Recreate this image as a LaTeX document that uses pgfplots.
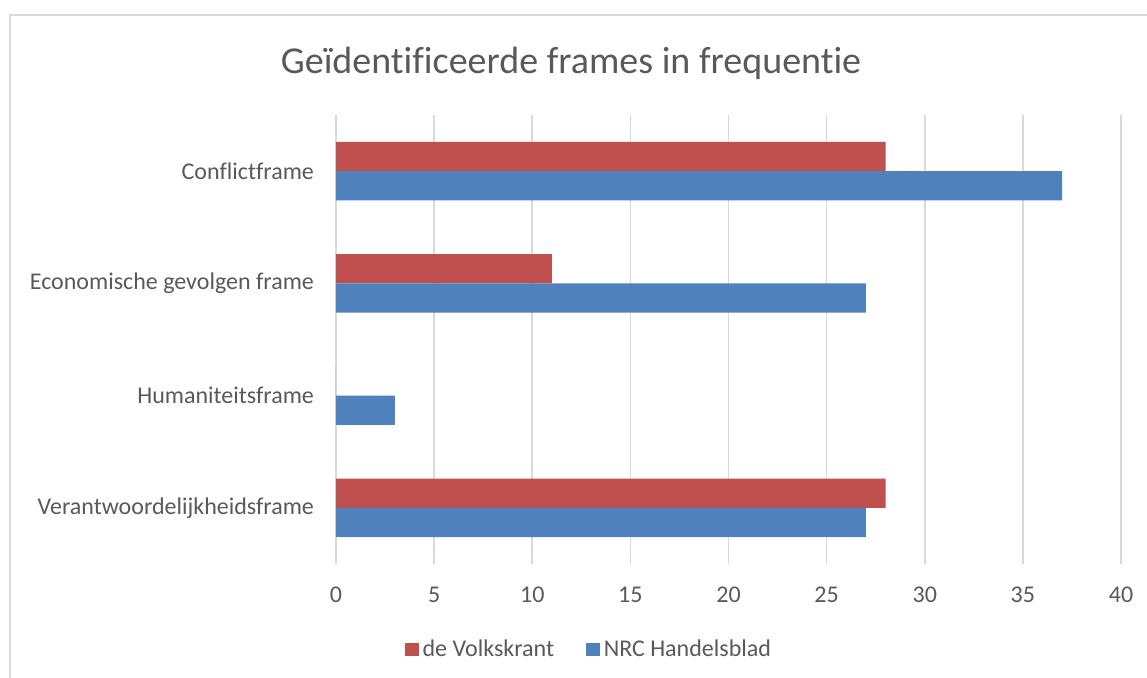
\documentclass[border=0pt]{standalone}
\usepackage{fontspec}
\setmainfont{Carlito}[RawFeature={-liga;-clig;-calt;-dlig}]
\usepackage{pgfplots}
\pgfplotsset{compat=1.18}
\definecolor{vkred}{HTML}{C0504D}
\definecolor{nrcblue}{HTML}{4F81BD}
\definecolor{txtgray}{HTML}{595959}
\definecolor{gridgray}{HTML}{D9D9D9}
\definecolor{framegray}{HTML}{D9D9D9}

\begin{document}
\begin{tikzpicture}
% 1 px of the reference = 0.5pt
\useasboundingbox (0,0) rectangle (573.5pt,-339pt);
\draw[framegray,line width=0.6pt] (5pt,-345pt) -- (5pt,-7.5pt) -- (580pt,-7.5pt);
\node[txtgray,font=\fontsize{19}{22}\selectfont] at (285.5pt,-31.5pt) {Geïdentificeerde frames in frequentie};
\begin{axis}[
  at={(168pt,-282pt)},anchor=south west,
  scale only axis,width=392.5pt,height=224.5pt,
  xbar,bar width=0.26,
  xmin=0,xmax=40,ymin=-0.5,ymax=3.5,
  xtick={0,5,...,40},
  ytick={0,1,2,3},
  yticklabels={Verantwoordelijkheidsframe,Humaniteitsframe,Economische gevolgen frame,Conflictframe},
  /pgf/number format/assume math mode=true,
  tick label style={txtgray,font=\fontsize{12}{14}\selectfont},
  xticklabel style={yshift=-8pt},
  yticklabel style={xshift=-7.5pt},
  major tick length=0pt,
  axis line style={draw=none},
  xmajorgrids,grid style={gridgray,line width=0.75pt},
  legend style={at={(0.3236,-0.19)},anchor=center,draw=none,fill=none,
    legend columns=2,font=\fontsize{12}{14}\selectfont,text=txtgray,
    /tikz/every even column/.append style={column sep=14pt}},
  legend image code/.code={\fill[#1] (-2pt,-3.4pt) rectangle (4.8pt,3.4pt);},
]
\addplot[fill=vkred,draw=none,bar shift=0.13] coordinates {(28,3) (11,2) (0,1) (28,0)};
\addplot[fill=nrcblue,draw=none,bar shift=-0.13] coordinates {(37,3) (27,2) (3,1) (27,0)};
\legend{de Volkskrant,NRC Handelsblad}
\end{axis}
\end{tikzpicture}
\end{document}
